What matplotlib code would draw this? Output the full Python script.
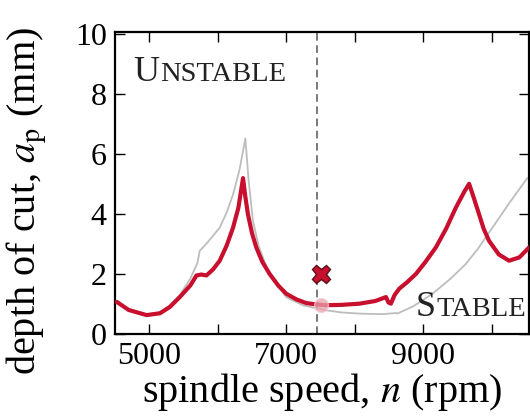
import matplotlib
matplotlib.use("Agg")
import matplotlib.pyplot as plt
import numpy as np

plt.rcParams["font.family"] = ["Liberation Serif", "DejaVu Serif"]
plt.rcParams["mathtext.fontset"] = "stix"

# 稳定性叶瓣图数据
red_n = [4525, 4700, 4960, 5155, 5300, 5446, 5600, 5689, 5760, 5834, 5930, 6028, 6130, 6222,
         6300, 6368, 6400, 6440, 6500, 6562, 6650, 6756, 6880, 6999, 7150, 7290, 7450, 7580,
         7800, 8066, 8300, 8454, 8490, 8526, 8580, 8648, 8760, 8891, 9030, 9181, 9330, 9472,
         9600, 9667, 9740, 9813, 9880, 9958, 10100, 10250, 10400, 10541]
red_ap = [1.07, 0.80, 0.63, 0.69, 0.90, 1.23, 1.62, 1.95, 1.98, 1.95, 2.15, 2.44, 2.95, 3.54,
          4.20, 5.19, 4.60, 3.98, 3.35, 2.88, 2.40, 2.00, 1.62, 1.34, 1.15, 1.03, 0.98, 0.96,
          0.97, 1.01, 1.10, 1.23, 1.05, 1.01, 1.30, 1.51, 1.72, 2.00, 2.40, 2.88, 3.50, 4.20,
          4.75, 5.00, 4.50, 3.98, 3.50, 3.10, 2.65, 2.44, 2.55, 2.88]

gray_n = [5000, 5155, 5300, 5446, 5600, 5700, 5737, 5850, 6028, 6130, 6222, 6320, 6402,
          6450, 6513, 6600, 6750, 7000, 7250, 7580, 7800, 8066, 8400, 8600, 8620, 8850,
          9133, 9400, 9618, 9800, 10007, 10250, 10516]
gray_ap = [0.66, 0.72, 0.95, 1.30, 1.85, 2.35, 2.77, 3.05, 3.54, 4.05, 4.64, 5.50, 6.51,
           5.10, 3.76, 2.90, 2.00, 1.22, 0.95, 0.79, 0.72, 0.68, 0.66, 0.70, 0.68, 0.92,
           1.34, 1.85, 2.33, 2.85, 3.54, 4.35, 5.19]

n_cut = 7450
test_n, test_ap_unstable, test_ap_stable = 7500, 2.0, 0.96

RED = "#c8102e"

fig = plt.figure(figsize=(5.3, 4.17), dpi=100)
ax = fig.add_axes([0.217, 0.199, 0.781, 0.724])

ax.plot(gray_n, gray_ap, color="#bdbdbd", lw=1.3, zorder=2)
ax.plot(red_n, red_ap, color=RED, lw=3.0, zorder=3, solid_capstyle="round")
ax.axvline(n_cut, color="#555555", lw=1.1, ls=(0, (5, 3)), zorder=1)
ax.plot(test_n, test_ap_stable, "o", ms=10, mfc="#e9a3ab", mec="#f3c9ce",
        alpha=0.75, zorder=4)
ax.plot(test_n, test_ap_unstable, "X", ms=13, mfc=RED, mec="#5a1018",
        mew=1.0, zorder=5)

ax.set_xlim(4500, 10540)
ax.set_ylim(0, 10.05)
ax.set_xticks([5000, 7000, 9000])
ax.set_xticks([6000, 8000, 10000], minor=True)
ax.set_yticks([0, 2, 4, 6, 8, 10])
ax.tick_params(which="both", direction="in", top=True, right=True, length=7,
               width=1.0, labelsize=23, pad=6)
for s in ax.spines.values():
    s.set_linewidth(1.6)

ax.set_xlabel("spindle speed, $n$ (rpm)", fontsize=29, labelpad=0)
ax.set_ylabel(r"depth of cut, $a_\mathrm{p}$ (mm)", fontsize=29)
ax.yaxis.set_label_coords(-0.16, 0.44)


def small_caps(x, y, word, big=26, small=20.5):
    t = ax.text(x, y, word[0], fontsize=big, color="#222222", va="baseline")
    fig.canvas.draw()
    bb = t.get_window_extent()
    x2 = ax.transData.inverted().transform((bb.x1 + 1, 0))[0]
    ax.text(x2, y, word[1:], fontsize=small, color="#222222", va="baseline")


small_caps(4762, 8.42, "UNSTABLE")
small_caps(8880, 0.59, "STABLE")

fig.savefig("out.png", dpi=100)
